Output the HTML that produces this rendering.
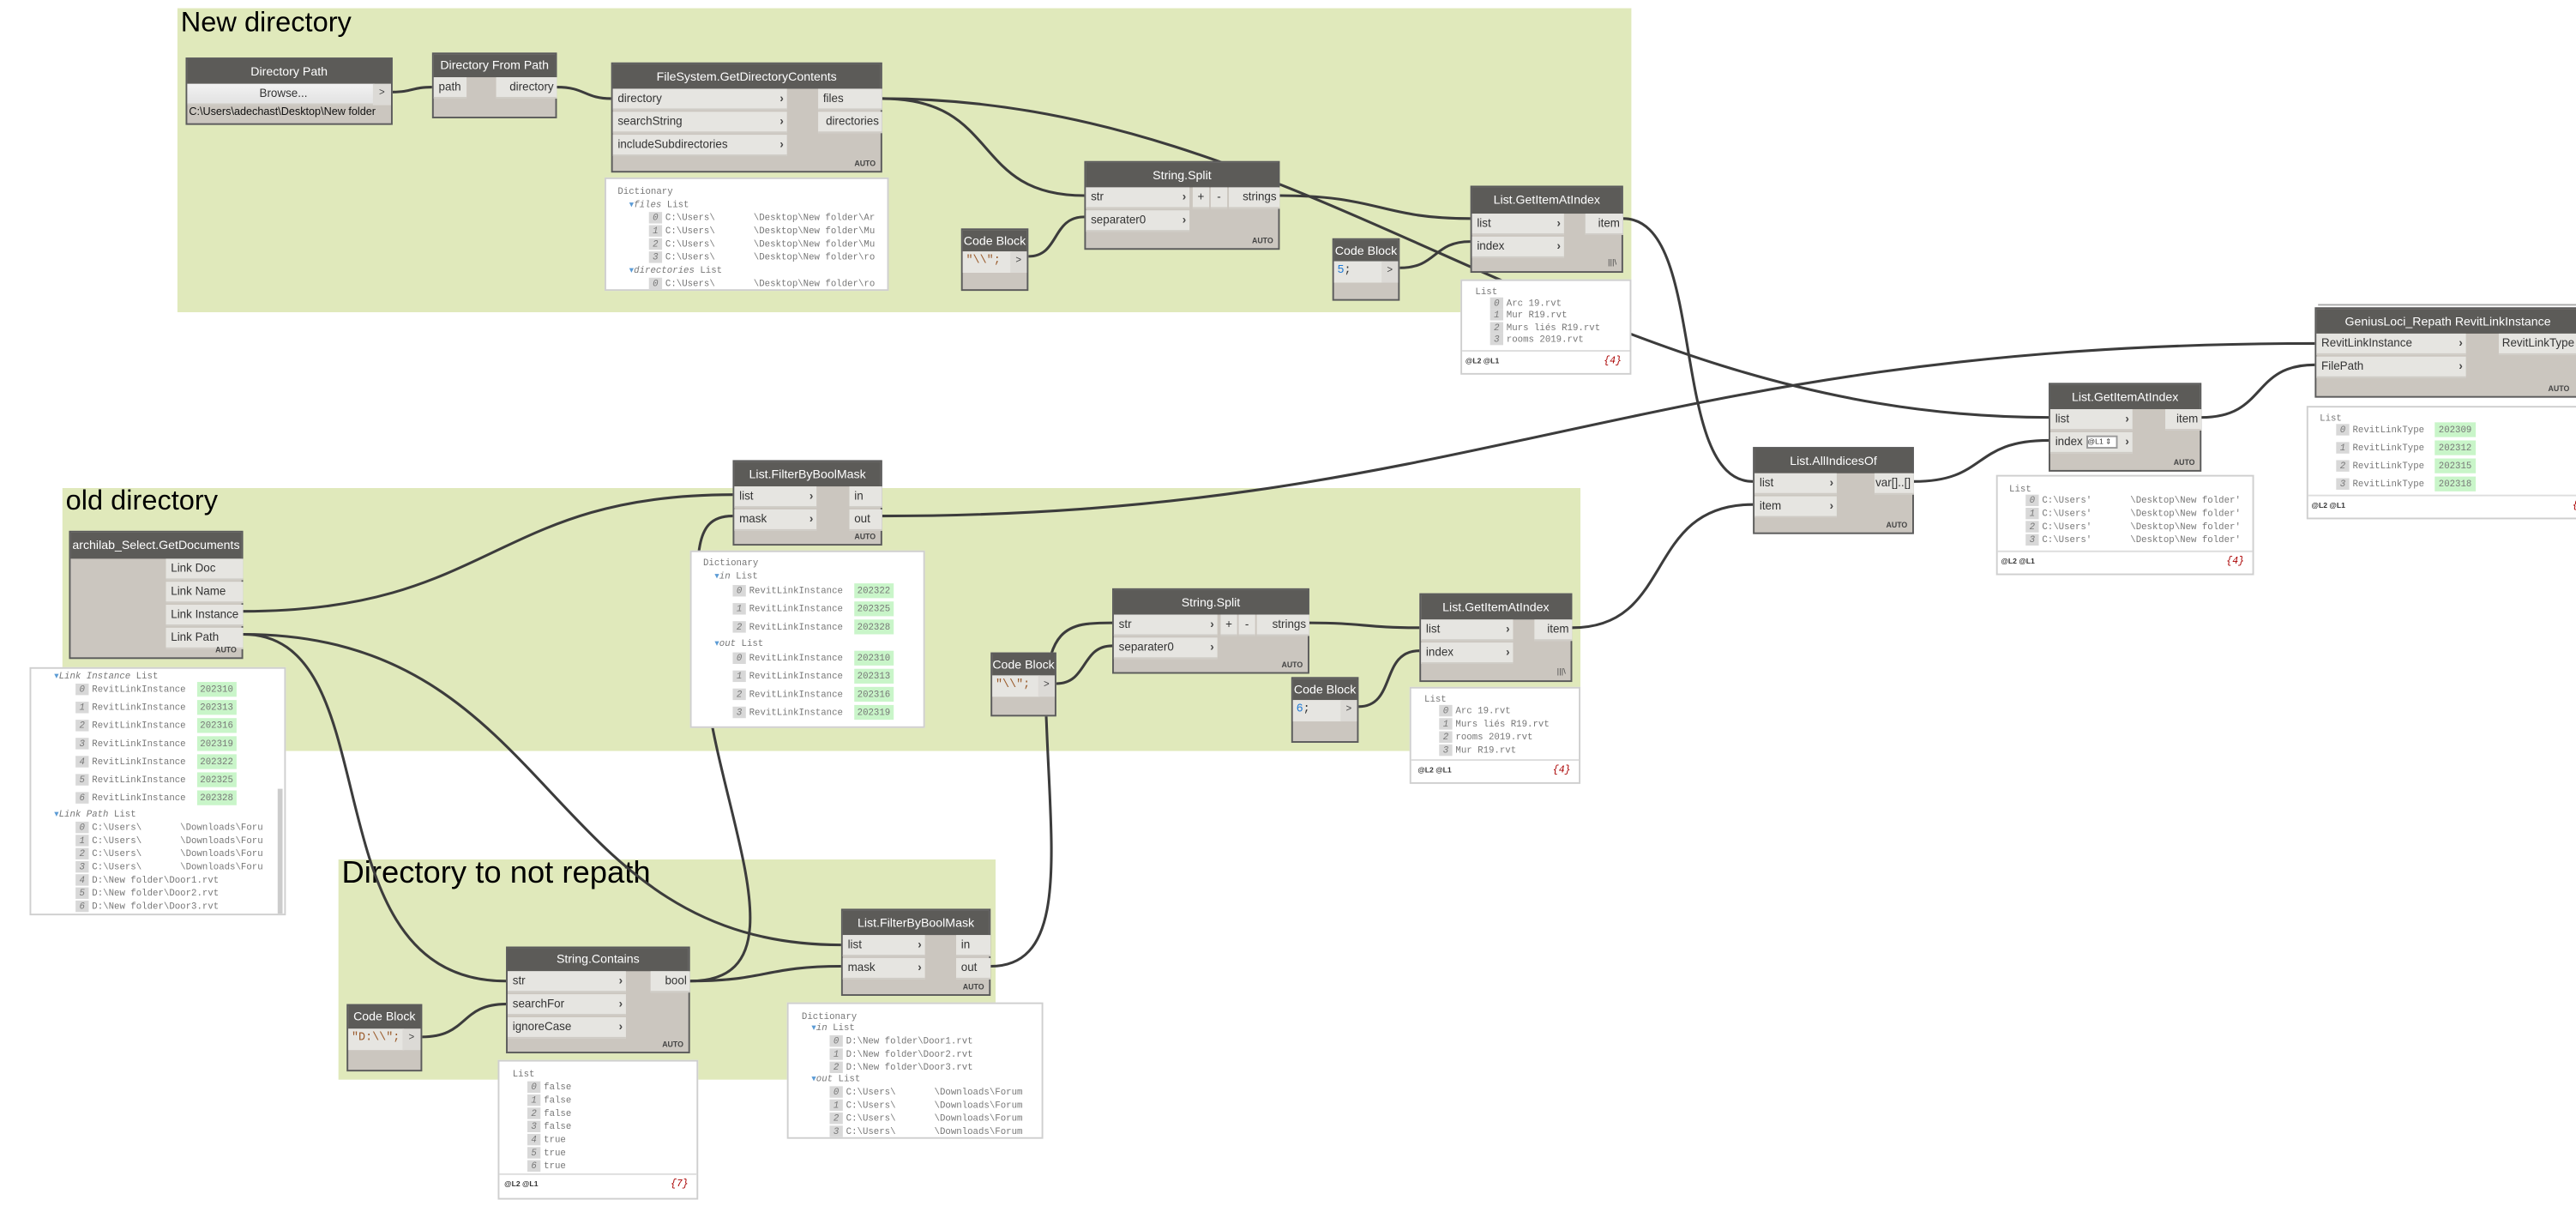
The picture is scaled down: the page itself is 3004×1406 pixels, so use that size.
<!DOCTYPE html>
<html><head><meta charset="utf-8">
<style>
html,body{margin:0;padding:0;background:#fff;width:3004px;height:1406px;overflow:hidden}
#w{position:absolute;left:0;top:0;width:1568px;height:734px;transform:scale(1.91582);transform-origin:0 0;font-family:"Liberation Sans",sans-serif}
.g{position:absolute;background:#e0e9bb}
.gt{position:absolute;color:#000;font-family:"Liberation Sans",sans-serif;white-space:nowrap}
.n{position:absolute;background:#cbc6bf;border:1px solid #5b5b5b;box-sizing:border-box}
.h{position:absolute;left:0;right:0;top:0;background:#5c5b58;color:#fff;font-size:7.4px;text-align:center;white-space:nowrap;overflow:hidden}
.p{position:absolute;left:0;height:13px;line-height:13px;background:#e6e5e1;font-size:7px;color:#333;padding-left:3px;box-sizing:border-box;white-space:nowrap;border-bottom:1px solid #cfccc6}
.p b{position:absolute;right:2px;top:0;font-weight:bold;color:#444}
.o{position:absolute;height:13px;line-height:13px;background:#e6e5e1;font-size:7px;color:#333;text-align:right;padding-right:2px;box-sizing:border-box;white-space:nowrap;border-bottom:1px solid #cfccc6}
.a{position:absolute;right:3px;bottom:2px;font-size:4.6px;font-weight:bold;color:#444}
.cb{position:absolute;left:0;height:13px;line-height:13px;background:#e6e5e1;font-family:"Liberation Mono",monospace;font-size:7px;padding-left:2px;box-sizing:border-box}
.cg{position:absolute;right:0;width:10px;height:13px;line-height:13px;background:#dcdad6;font-size:6px;text-align:center;color:#444}
.pv{position:absolute;background:#fff;border:1px solid #cfcfcf;box-sizing:border-box;font-family:"Liberation Mono",monospace;font-size:5.6px;color:#777;white-space:nowrap;overflow:hidden}
.pv div{position:absolute;white-space:nowrap}
.i{display:inline-block;background:#d8d8d8;width:8px;text-align:center;margin-right:2px;font-style:italic}
.gv{background:#c9f5c9;padding:1px 2px}
.ft{position:absolute;left:0;right:0;bottom:0;height:13px;border-top:1px solid #ddd}
.ft span{position:absolute;top:3px;font-size:4.5px;color:#333;font-family:"Liberation Sans",sans-serif;font-weight:bold}
.ft em{position:absolute;right:5px;top:2px;color:#a00;font-size:6px}
</style></head><body>
<div id="w">
<!-- groups -->
<div class="g" style="left:108px;top:5px;width:885px;height:185px"></div>
<div class="gt" style="left:110px;top:4px;font-size:17px">New directory</div>
<div class="g" style="left:38px;top:297px;width:924px;height:160px"></div>
<div class="gt" style="left:40px;top:295px;font-size:17px">old directory</div>
<div class="g" style="left:206px;top:523px;width:400px;height:134px"></div>
<div class="gt" style="left:208px;top:521px;font-size:19px">Directory to not repath</div>

<svg style="position:absolute;left:0;top:0" width="1568" height="734">
<g fill="none" stroke="#3c3c3c" stroke-width="1.6">
<path d="M239,56 C251,56 251,53 263,53"/>
<path d="M339,53 C356,53 356,60 372,60"/>
<path d="M537,60 C610,60 590,119 660,119"/>
<path d="M537,60 C800,60 960,254 1247,254"/>
<path d="M626,156 C645,156 640,132 660,132"/>
<path d="M779,119 C840,119 840,133 895,133"/>
<path d="M852,163 C875,163 872,147 895,147"/>
<path d="M988,133 C1040,133 1015,293 1067,293"/>
<path d="M643,416 C662,416 658,393 677,393"/>
<path d="M603,588 C650,588 640,520 637,440 C634,380 650,379 677,379"/>
<path d="M797,379 C830,379 830,382 864,382"/>
<path d="M827,430 C850,430 840,396 864,396"/>
<path d="M957,382 C1020,382 1000,307 1067,307"/>
<path d="M1165,293 C1210,293 1200,268 1247,268"/>
<path d="M1340,254 C1380,254 1370,222 1409,222"/>
<path d="M537,314 C900,314 1000,209 1409,209"/>
<path d="M148,372 C300,372 300,301 446,301"/>
<path d="M148,386 C240,386 185,597 308,597"/>
<path d="M148,386 C340,386 330,575 512,575"/>
<path d="M420,597 C466,597 466,588 512,588"/>
<path d="M420,597 C490,597 440,500 430,420 C422,340 420,314 446,314"/>
<path d="M257,631 C285,631 280,611 308,611"/>
</g>
</svg>

<!-- Directory Path -->
<div class="n" style="left:113px;top:35px;width:126px;height:41px">
<div class="h" style="height:15px;line-height:15px">Directory Path</div>
<div class="p" style="top:15px;width:114px;text-align:center;background:linear-gradient(#f2f2f2,#e2e2e2)">Browse...</div>
<div class="cg" style="top:15px;width:11px;height:13px">&gt;</div>
<div style="position:absolute;left:1px;top:29px;font-size:6.6px;color:#111;white-space:nowrap">C:\Users\adechast\Desktop\New folder</div>
</div>
<!-- Directory From Path -->
<div class="n" style="left:263px;top:32px;width:76px;height:40px">
<div class="h" style="height:14px;line-height:14px">Directory From Path</div>
<div class="p" style="top:14px;width:20px">path</div>
<div class="o" style="top:14px;left:38px;width:37px">directory</div>
</div>
<!-- FileSystem.GetDirectoryContents -->
<div class="n" style="left:372px;top:38px;width:165px;height:67px">
<div class="h" style="height:15px;line-height:15px">FileSystem.GetDirectoryContents</div>
<div class="p" style="top:15px;width:106px">directory<b>›</b></div>
<div class="p" style="top:29px;width:106px">searchString<b>›</b></div>
<div class="p" style="top:43px;width:106px">includeSubdirectories<b>›</b></div>
<div class="o" style="top:15px;left:125px;width:39px;text-align:left;padding-left:3px">files</div>
<div class="o" style="top:29px;left:125px;width:39px">directories</div>
<div class="a">AUTO</div>
</div>
<div class="pv" style="left:368px;top:108px;width:173px;height:69px">
<div style="left:7px;top:4px">Dictionary</div>
<div style="left:14px;top:12px"><span style="color:#5b9bd5">▾</span><i>files</i> List</div>
<div style="left:26px;top:20px"><span class="i">0</span>C:\Users\&nbsp;&nbsp;&nbsp;&nbsp;&nbsp;&nbsp;&nbsp;\Desktop\New folder\Ar</div>
<div style="left:26px;top:28px"><span class="i">1</span>C:\Users\&nbsp;&nbsp;&nbsp;&nbsp;&nbsp;&nbsp;&nbsp;\Desktop\New folder\Mu</div>
<div style="left:26px;top:36px"><span class="i">2</span>C:\Users\&nbsp;&nbsp;&nbsp;&nbsp;&nbsp;&nbsp;&nbsp;\Desktop\New folder\Mu</div>
<div style="left:26px;top:44px"><span class="i">3</span>C:\Users\&nbsp;&nbsp;&nbsp;&nbsp;&nbsp;&nbsp;&nbsp;\Desktop\New folder\ro</div>
<div style="left:14px;top:52px"><span style="color:#5b9bd5">▾</span><i>directories</i> List</div>
<div style="left:26px;top:60px"><span class="i">0</span>C:\Users\&nbsp;&nbsp;&nbsp;&nbsp;&nbsp;&nbsp;&nbsp;\Desktop\New folder\ro</div>
</div>
<!-- Code block top -->
<div class="n" style="left:585px;top:139px;width:41px;height:38px">
<div class="h" style="height:13px;line-height:13px">Code Block</div>
<div class="cb" style="top:13px;width:30px;color:#9a5a2a">"\\";</div><div class="cg" style="top:13px">&gt;</div>
</div>
<!-- String.Split top -->
<div class="n" style="left:660px;top:98px;width:119px;height:54px">
<div class="h" style="height:15px;line-height:15px">String.Split</div>
<div class="p" style="top:15px;width:63px">str<b>›</b></div>
<div class="p" style="top:29px;width:63px">separater0<b>›</b></div>
<div class="o" style="top:15px;left:65px;width:10px;text-align:center;padding:0">+</div>
<div class="o" style="top:15px;left:76px;width:10px;text-align:center;padding:0">-</div>
<div class="o" style="top:15px;left:87px;width:31px">strings</div>
<div class="a">AUTO</div>
</div>
<!-- Code 5 -->
<div class="n" style="left:811px;top:145px;width:41px;height:38px">
<div class="h" style="height:13px;line-height:13px">Code Block</div>
<div class="cb" style="top:13px;width:30px;color:#1e7ad6">5<span style="color:#333">;</span></div><div class="cg" style="top:13px">&gt;</div>
</div>
<!-- GetItemAtIndex top -->
<div class="n" style="left:895px;top:113px;width:93px;height:53px">
<div class="h" style="height:16px;line-height:16px">List.GetItemAtIndex</div>
<div class="p" style="top:16px;width:56px">list<b>›</b></div>
<div class="p" style="top:30px;width:56px">index<b>›</b></div>
<div class="o" style="top:16px;left:69px;width:23px">item</div>
<div class="a" style="font-weight:normal;font-size:5px">|||\</div>
</div>
<div class="pv" style="left:889px;top:170px;width:104px;height:58px">
<div style="left:8px;top:3px">List</div>
<div style="left:17px;top:10px"><span class="i">0</span>Arc 19.rvt</div>
<div style="left:17px;top:17px"><span class="i">1</span>Mur R19.rvt</div>
<div style="left:17px;top:25px"><span class="i">2</span>Murs liés R19.rvt</div>
<div style="left:17px;top:32px"><span class="i">3</span>rooms 2019.rvt</div>
<div class="ft"><span style="left:2px">@L2 @L1</span><em>{4}</em></div>
</div>

<!-- archilab -->
<div class="n" style="left:42px;top:323px;width:106px;height:78px">
<div class="h" style="height:16px;line-height:16px">archilab_Select.GetDocuments</div>
<div class="o" style="top:16px;left:58px;width:47px;text-align:left;padding-left:3px">Link Doc</div>
<div class="o" style="top:30px;left:58px;width:47px;text-align:left;padding-left:3px">Link Name</div>
<div class="o" style="top:44px;left:58px;width:47px;text-align:left;padding-left:3px">Link Instance</div>
<div class="o" style="top:58px;left:58px;width:47px;text-align:left;padding-left:3px">Link Path</div>
<div class="a">AUTO</div>
</div>
<div class="pv" style="left:18px;top:406px;width:156px;height:151px">
<div style="left:14px;top:1px"><span style="color:#5b9bd5">▾</span><i>Link Instance</i> List</div>
<div style="left:27px;top:9px"><span class="i">0</span>RevitLinkInstance&nbsp;&nbsp;<span class="gv">202310</span></div>
<div style="left:27px;top:20px"><span class="i">1</span>RevitLinkInstance&nbsp;&nbsp;<span class="gv">202313</span></div>
<div style="left:27px;top:31px"><span class="i">2</span>RevitLinkInstance&nbsp;&nbsp;<span class="gv">202316</span></div>
<div style="left:27px;top:42px"><span class="i">3</span>RevitLinkInstance&nbsp;&nbsp;<span class="gv">202319</span></div>
<div style="left:27px;top:53px"><span class="i">4</span>RevitLinkInstance&nbsp;&nbsp;<span class="gv">202322</span></div>
<div style="left:27px;top:64px"><span class="i">5</span>RevitLinkInstance&nbsp;&nbsp;<span class="gv">202325</span></div>
<div style="left:27px;top:75px"><span class="i">6</span>RevitLinkInstance&nbsp;&nbsp;<span class="gv">202328</span></div>
<div style="left:14px;top:85px"><span style="color:#5b9bd5">▾</span><i>Link Path</i> List</div>
<div style="left:27px;top:93px"><span class="i">0</span>C:\Users\&nbsp;&nbsp;&nbsp;&nbsp;&nbsp;&nbsp;&nbsp;\Downloads\Foru</div>
<div style="left:27px;top:101px"><span class="i">1</span>C:\Users\&nbsp;&nbsp;&nbsp;&nbsp;&nbsp;&nbsp;&nbsp;\Downloads\Foru</div>
<div style="left:27px;top:109px"><span class="i">2</span>C:\Users\&nbsp;&nbsp;&nbsp;&nbsp;&nbsp;&nbsp;&nbsp;\Downloads\Foru</div>
<div style="left:27px;top:117px"><span class="i">3</span>C:\Users\&nbsp;&nbsp;&nbsp;&nbsp;&nbsp;&nbsp;&nbsp;\Downloads\Foru</div>
<div style="left:27px;top:125px"><span class="i">4</span>D:\New folder\Door1.rvt</div>
<div style="left:27px;top:133px"><span class="i">5</span>D:\New folder\Door2.rvt</div>
<div style="left:27px;top:141px"><span class="i">6</span>D:\New folder\Door3.rvt</div>
<div style="left:150px;top:73px;width:3px;height:76px;background:#ccc"></div>
</div>

<!-- FilterByBoolMask mid -->
<div class="n" style="left:446px;top:280px;width:91px;height:52px">
<div class="h" style="height:15px;line-height:15px">List.FilterByBoolMask</div>
<div class="p" style="top:15px;width:50px">list<b>›</b></div>
<div class="p" style="top:29px;width:50px">mask<b>›</b></div>
<div class="o" style="top:15px;left:70px;width:20px;text-align:left;padding-left:3px">in</div>
<div class="o" style="top:29px;left:70px;width:20px;text-align:left;padding-left:3px">out</div>
<div class="a">AUTO</div>
</div>
<div class="pv" style="left:420px;top:335px;width:143px;height:108px">
<div style="left:7px;top:3px">Dictionary</div>
<div style="left:14px;top:11px"><span style="color:#5b9bd5">▾</span><i>in</i> List</div>
<div style="left:25px;top:20px"><span class="i">0</span>RevitLinkInstance&nbsp;&nbsp;<span class="gv">202322</span></div>
<div style="left:25px;top:31px"><span class="i">1</span>RevitLinkInstance&nbsp;&nbsp;<span class="gv">202325</span></div>
<div style="left:25px;top:42px"><span class="i">2</span>RevitLinkInstance&nbsp;&nbsp;<span class="gv">202328</span></div>
<div style="left:14px;top:52px"><span style="color:#5b9bd5">▾</span><i>out</i> List</div>
<div style="left:25px;top:61px"><span class="i">0</span>RevitLinkInstance&nbsp;&nbsp;<span class="gv">202310</span></div>
<div style="left:25px;top:72px"><span class="i">1</span>RevitLinkInstance&nbsp;&nbsp;<span class="gv">202313</span></div>
<div style="left:25px;top:83px"><span class="i">2</span>RevitLinkInstance&nbsp;&nbsp;<span class="gv">202316</span></div>
<div style="left:25px;top:94px"><span class="i">3</span>RevitLinkInstance&nbsp;&nbsp;<span class="gv">202319</span></div>
</div>
<!-- Code mid -->
<div class="n" style="left:603px;top:397px;width:40px;height:39px">
<div class="h" style="height:13px;line-height:13px">Code Block</div>
<div class="cb" style="top:13px;width:29px;color:#9a5a2a">"\\";</div><div class="cg" style="top:13px">&gt;</div>
</div>
<!-- String.Split mid -->
<div class="n" style="left:677px;top:358px;width:120px;height:52px">
<div class="h" style="height:15px;line-height:15px">String.Split</div>
<div class="p" style="top:15px;width:63px">str<b>›</b></div>
<div class="p" style="top:29px;width:63px">separater0<b>›</b></div>
<div class="o" style="top:15px;left:65px;width:10px;text-align:center;padding:0">+</div>
<div class="o" style="top:15px;left:76px;width:10px;text-align:center;padding:0">-</div>
<div class="o" style="top:15px;left:87px;width:32px">strings</div>
<div class="a">AUTO</div>
</div>
<!-- Code 6 -->
<div class="n" style="left:786px;top:412px;width:41px;height:40px">
<div class="h" style="height:13px;line-height:13px">Code Block</div>
<div class="cb" style="top:13px;width:30px;color:#1e7ad6">6<span style="color:#333">;</span></div><div class="cg" style="top:13px">&gt;</div>
</div>
<!-- GetItemAtIndex mid -->
<div class="n" style="left:864px;top:361px;width:93px;height:54px">
<div class="h" style="height:15px;line-height:15px">List.GetItemAtIndex</div>
<div class="p" style="top:15px;width:56px">list<b>›</b></div>
<div class="p" style="top:29px;width:56px">index<b>›</b></div>
<div class="o" style="top:15px;left:69px;width:23px">item</div>
<div class="a" style="font-weight:normal;font-size:5px">|||\</div>
</div>
<div class="pv" style="left:858px;top:418px;width:104px;height:59px">
<div style="left:8px;top:3px">List</div>
<div style="left:17px;top:10px"><span class="i">0</span>Arc 19.rvt</div>
<div style="left:17px;top:18px"><span class="i">1</span>Murs liés R19.rvt</div>
<div style="left:17px;top:26px"><span class="i">2</span>rooms 2019.rvt</div>
<div style="left:17px;top:34px"><span class="i">3</span>Mur R19.rvt</div>
<div class="ft"><span style="left:4px">@L2 @L1</span><em>{4}</em></div>
</div>

<!-- AllIndicesOf -->
<div class="n" style="left:1067px;top:272px;width:98px;height:53px">
<div class="h" style="height:15px;line-height:15px">List.AllIndicesOf</div>
<div class="p" style="top:15px;width:50px">list<b>›</b></div>
<div class="p" style="top:29px;width:50px">item<b>›</b></div>
<div class="o" style="top:15px;left:73px;width:24px">var[]..[]</div>
<div class="a">AUTO</div>
</div>
<!-- GetItemAtIndex right -->
<div class="n" style="left:1247px;top:233px;width:93px;height:54px">
<div class="h" style="height:15px;line-height:15px">List.GetItemAtIndex</div>
<div class="p" style="top:15px;width:50px">list<b>›</b></div>
<div class="p" style="top:29px;width:50px">index <span style="display:inline-block;background:#fff;border:1px solid #999;font-size:4.5px;line-height:6px;width:17px;vertical-align:middle">@L1 ⇕</span><b>›</b></div>
<div class="o" style="top:15px;left:70px;width:22px">item</div>
<div class="a">AUTO</div>
</div>
<div class="pv" style="left:1215px;top:289px;width:157px;height:61px">
<div style="left:7px;top:4px">List</div>
<div style="left:17px;top:11px"><span class="i">0</span>C:\Users'&nbsp;&nbsp;&nbsp;&nbsp;&nbsp;&nbsp;&nbsp;\Desktop\New folder'</div>
<div style="left:17px;top:19px"><span class="i">1</span>C:\Users'&nbsp;&nbsp;&nbsp;&nbsp;&nbsp;&nbsp;&nbsp;\Desktop\New folder'</div>
<div style="left:17px;top:27px"><span class="i">2</span>C:\Users'&nbsp;&nbsp;&nbsp;&nbsp;&nbsp;&nbsp;&nbsp;\Desktop\New folder'</div>
<div style="left:17px;top:35px"><span class="i">3</span>C:\Users'&nbsp;&nbsp;&nbsp;&nbsp;&nbsp;&nbsp;&nbsp;\Desktop\New folder'</div>
<div class="ft"><span style="left:2px">@L2 @L1</span><em>{4}</em></div>
</div>
<!-- GeniusLoci -->
<div style="position:absolute;left:1411px;top:185px;width:160px;height:2px;border-top:1px solid #aaa;border-bottom:1px solid #aaa"></div>
<div class="n" style="left:1409px;top:187px;width:162px;height:55px">
<div class="h" style="height:15px;line-height:15px">GeniusLoci_Repath RevitLinkInstance</div>
<div class="p" style="top:15px;width:91px">RevitLinkInstance<b>›</b></div>
<div class="p" style="top:29px;width:91px">FilePath<b>›</b></div>
<div class="o" style="top:15px;left:111px;width:50px;text-align:left;padding-left:2px">RevitLinkType</div>
<div class="a" style="right:6px">AUTO</div>
</div>
<div class="pv" style="left:1404px;top:247px;width:168px;height:69px">
<div style="left:7px;top:3px">List</div>
<div style="left:17px;top:10px"><span class="i">0</span>RevitLinkType&nbsp;&nbsp;<span class="gv">202309</span></div>
<div style="left:17px;top:21px"><span class="i">1</span>RevitLinkType&nbsp;&nbsp;<span class="gv">202312</span></div>
<div style="left:17px;top:32px"><span class="i">2</span>RevitLinkType&nbsp;&nbsp;<span class="gv">202315</span></div>
<div style="left:17px;top:43px"><span class="i">3</span>RevitLinkType&nbsp;&nbsp;<span class="gv">202318</span></div>
<div class="ft"><span style="left:2px">@L2 @L1</span><em style="right:-2px">{4</em></div>
</div>

<!-- Code D -->
<div class="n" style="left:211px;top:611px;width:46px;height:41px">
<div class="h" style="height:14px;line-height:14px">Code Block</div>
<div class="cb" style="top:14px;width:34px;color:#9a5a2a">"D:\\";</div><div class="cg" style="top:14px;width:11px">&gt;</div>
</div>
<!-- String.Contains -->
<div class="n" style="left:308px;top:576px;width:112px;height:65px">
<div class="h" style="height:14px;line-height:14px">String.Contains</div>
<div class="p" style="top:14px;width:72px">str<b>›</b></div>
<div class="p" style="top:28px;width:72px">searchFor<b>›</b></div>
<div class="p" style="top:42px;width:72px">ignoreCase<b>›</b></div>
<div class="o" style="top:14px;left:87px;width:24px">bool</div>
<div class="a">AUTO</div>
</div>
<div class="pv" style="left:303px;top:645px;width:122px;height:85px">
<div style="left:8px;top:4px">List</div>
<div style="left:17px;top:12px"><span class="i">0</span>false</div>
<div style="left:17px;top:20px"><span class="i">1</span>false</div>
<div style="left:17px;top:28px"><span class="i">2</span>false</div>
<div style="left:17px;top:36px"><span class="i">3</span>false</div>
<div style="left:17px;top:44px"><span class="i">4</span>true</div>
<div style="left:17px;top:52px"><span class="i">5</span>true</div>
<div style="left:17px;top:60px"><span class="i">6</span>true</div>
<div class="ft" style="height:14px"><span style="left:3px">@L2 @L1</span><em>{7}</em></div>
</div>
<!-- FilterByBoolMask bottom -->
<div class="n" style="left:512px;top:553px;width:91px;height:53px">
<div class="h" style="height:15px;line-height:15px">List.FilterByBoolMask</div>
<div class="p" style="top:15px;width:50px">list<b>›</b></div>
<div class="p" style="top:29px;width:50px">mask<b>›</b></div>
<div class="o" style="top:15px;left:69px;width:21px;text-align:left;padding-left:3px">in</div>
<div class="o" style="top:29px;left:69px;width:21px;text-align:left;padding-left:3px">out</div>
<div class="a">AUTO</div>
</div>
<div class="pv" style="left:479px;top:610px;width:156px;height:83px">
<div style="left:8px;top:4px">Dictionary</div>
<div style="left:14px;top:11px"><span style="color:#5b9bd5">▾</span><i>in</i> List</div>
<div style="left:25px;top:19px"><span class="i">0</span>D:\New folder\Door1.rvt</div>
<div style="left:25px;top:27px"><span class="i">1</span>D:\New folder\Door2.rvt</div>
<div style="left:25px;top:35px"><span class="i">2</span>D:\New folder\Door3.rvt</div>
<div style="left:14px;top:42px"><span style="color:#5b9bd5">▾</span><i>out</i> List</div>
<div style="left:25px;top:50px"><span class="i">0</span>C:\Users\&nbsp;&nbsp;&nbsp;&nbsp;&nbsp;&nbsp;&nbsp;\Downloads\Forum</div>
<div style="left:25px;top:58px"><span class="i">1</span>C:\Users\&nbsp;&nbsp;&nbsp;&nbsp;&nbsp;&nbsp;&nbsp;\Downloads\Forum</div>
<div style="left:25px;top:66px"><span class="i">2</span>C:\Users\&nbsp;&nbsp;&nbsp;&nbsp;&nbsp;&nbsp;&nbsp;\Downloads\Forum</div>
<div style="left:25px;top:74px"><span class="i">3</span>C:\Users\&nbsp;&nbsp;&nbsp;&nbsp;&nbsp;&nbsp;&nbsp;\Downloads\Forum</div>
</div>
</div>
</body></html>
